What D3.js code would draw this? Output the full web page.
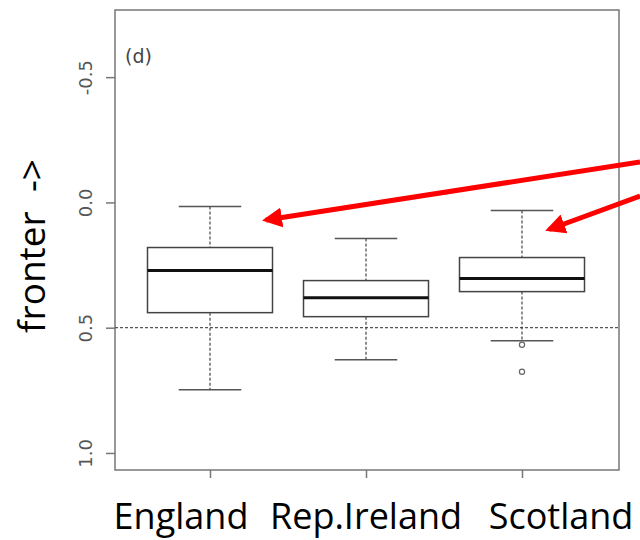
<!DOCTYPE html>
<html>
<head>
<meta charset="utf-8">
<script src="https://cdn.jsdelivr.net/npm/d3@7"></script>
<style>
  body { margin: 0; background: #fff; }
  svg { display: block; }
</style>
</head>
<body>
<svg id="chart" width="640" height="540"></svg>
<script>
// box stats (axis is reversed: small values on top)
var regions = ["England", "Rep.Ireland", "Scotland"];
var whiskerLow = [0.016, 0.144, 0.032];
var q1 = [0.18, 0.312, 0.22];
var medians = [0.272, 0.38, 0.304];
var q3 = [0.44, 0.456, 0.356];
var whiskerHigh = [0.748, 0.628, 0.552];
var outliers = [[], [], [0.568, 0.676]];
var yTicks = [-0.5, 0.0, 0.5, 1.0];
var yTickLabels = ["-0.5", "0.0", "0.5", "1.0"];
var refLine = 0.5;

var svg = d3.select("#chart");

var plotL = 115, plotR = 619, plotT = 10, plotB = 470;

var y = d3.scaleLinear()
    .domain([-0.768, 1.068])
    .range([plotT, plotB]);

var x = d3.scalePoint()
    .domain(regions)
    .range([210, 522])
    .padding(0);

var boxW = 125;

// frame
svg.append("rect")
    .attr("x", plotL)
    .attr("y", plotT)
    .attr("width", plotR - plotL)
    .attr("height", plotB - plotT)
    .attr("fill", "none")
    .attr("stroke", "#777")
    .attr("stroke-width", 1.5);

// y axis
var yAxis = d3.axisLeft(y)
    .tickValues(yTicks)
    .tickFormat(function (d, i) { return yTickLabels[i]; })
    .tickSize(9);

var yg = svg.append("g")
    .attr("transform", "translate(" + plotL + ",0)")
    .call(yAxis);
yg.select(".domain").remove();
yg.selectAll(".tick line").attr("stroke", "#777").attr("stroke-width", 1.5);
// labels in R style: turned on their side
yg.selectAll(".tick text")
    .attr("fill", "#555")
    .attr("font-family", "DejaVu Sans, sans-serif")
    .attr("font-size", "18px")
    .attr("text-anchor", "middle")
    .attr("transform", "translate(-29,0) rotate(-90)")
    .attr("x", 0)
    .attr("y", 0)
    .attr("dy", "0.35em");

// x axis (ticks only, labels are drawn larger below)
var xAxis = d3.axisBottom(x).tickSize(8).tickFormat("");
var xg = svg.append("g")
    .attr("transform", "translate(0," + plotB + ")")
    .call(xAxis);
xg.select(".domain").remove();
xg.selectAll(".tick line").attr("stroke", "#777").attr("stroke-width", 1.5);

// dotted reference line
svg.append("line")
    .attr("x1", plotL)
    .attr("x2", plotR)
    .attr("y1", y(refLine))
    .attr("y2", y(refLine))
    .attr("stroke", "#555")
    .attr("stroke-width", 1.3)
    .attr("stroke-dasharray", "3,2");

// boxes
var boxes = svg.selectAll(".box")
    .data(regions)
    .enter()
    .append("g")
    .attr("class", "box");

boxes.append("line") // upper whisker
    .attr("x1", function (d) { return x(d); })
    .attr("x2", function (d) { return x(d); })
    .attr("y1", function (d, i) { return y(whiskerLow[i]); })
    .attr("y2", function (d, i) { return y(q1[i]); })
    .attr("stroke", "#444")
    .attr("stroke-width", 1.2)
    .attr("stroke-dasharray", "3,2");

boxes.append("line") // lower whisker
    .attr("x1", function (d) { return x(d); })
    .attr("x2", function (d) { return x(d); })
    .attr("y1", function (d, i) { return y(q3[i]); })
    .attr("y2", function (d, i) { return y(whiskerHigh[i]); })
    .attr("stroke", "#444")
    .attr("stroke-width", 1.2)
    .attr("stroke-dasharray", "3,2");

boxes.append("line")
    .attr("x1", function (d) { return x(d) - boxW / 4; })
    .attr("x2", function (d) { return x(d) + boxW / 4; })
    .attr("y1", function (d, i) { return y(whiskerLow[i]); })
    .attr("y2", function (d, i) { return y(whiskerLow[i]); })
    .attr("stroke", "#555")
    .attr("stroke-width", 1.5);

boxes.append("line")
    .attr("x1", function (d) { return x(d) - boxW / 4; })
    .attr("x2", function (d) { return x(d) + boxW / 4; })
    .attr("y1", function (d, i) { return y(whiskerHigh[i]); })
    .attr("y2", function (d, i) { return y(whiskerHigh[i]); })
    .attr("stroke", "#555")
    .attr("stroke-width", 1.5);

boxes.append("rect")
    .attr("x", function (d) { return x(d) - boxW / 2; })
    .attr("y", function (d, i) { return y(q1[i]); })
    .attr("width", boxW)
    .attr("height", function (d, i) { return y(q3[i]) - y(q1[i]); })
    .attr("fill", "#fff")
    .attr("stroke", "#444")
    .attr("stroke-width", 1.5);

boxes.append("line")
    .attr("x1", function (d) { return x(d) - boxW / 2; })
    .attr("x2", function (d) { return x(d) + boxW / 2; })
    .attr("y1", function (d, i) { return y(medians[i]); })
    .attr("y2", function (d, i) { return y(medians[i]); })
    .attr("stroke", "#111")
    .attr("stroke-width", 3);

boxes.selectAll("circle")
    .data(function (d, i) { return outliers[i].map(function (v) { return { r: d, v: v }; }); })
    .enter()
    .append("circle")
    .attr("cx", function (o) { return x(o.r); })
    .attr("cy", function (o) { return y(o.v); })
    .attr("r", 2.6)
    .attr("fill", "none")
    .attr("stroke", "#666")
    .attr("stroke-width", 1.2);

// panel tag
svg.append("text")
    .attr("x", 125)
    .attr("y", 63)
    .text("(d)")
    .attr("font-family", "DejaVu Sans, sans-serif")
    .attr("font-size", "19px")
    .attr("fill", "#444");

// big slide labels
svg.append("text")
    .attr("transform", "translate(45,246) rotate(-90)")
    .attr("text-anchor", "middle")
    .attr("font-family", "Open Sans, sans-serif")
    .attr("font-size", "37px")
    .attr("fill", "#000")
    .attr("xml:space", "preserve")
    .style("white-space", "pre")
    .text("fronter  ->");

var labelX = [181, 366, 561];
svg.selectAll(".xlab")
    .data(regions)
    .enter()
    .append("text")
    .attr("class", "xlab")
    .attr("x", function (d, i) { return labelX[i]; })
    .attr("y", 529)
    .attr("text-anchor", "middle")
    .attr("font-family", "Open Sans, sans-serif")
    .attr("font-size", "36px")
    .attr("fill", "#000")
    .text(function (d) { return d; });

// red arrows (annotation)
svg.append("defs").append("marker")
    .attr("id", "head")
    .attr("viewBox", "0 0 10 10")
    .attr("refX", 8)
    .attr("refY", 5)
    .attr("markerWidth", 4)
    .attr("markerHeight", 4)
    .attr("orient", "auto")
    .append("path")
    .attr("d", "M0,0 L10,5 L0,10 Z")
    .attr("fill", "#f00");

var arrows = [
    { x1: 640, y1: 162, x2: x("England") + 56, y2: y(0.07) },
    { x1: 640, y1: 196, x2: x("Scotland") + 27, y2: y(0.108) }
];
svg.selectAll(".arrow")
    .data(arrows)
    .enter()
    .append("line")
    .attr("x1", function (d) { return d.x1; })
    .attr("y1", function (d) { return d.y1; })
    .attr("x2", function (d) { return d.x2; })
    .attr("y2", function (d) { return d.y2; })
    .attr("stroke", "#f00")
    .attr("stroke-width", 5)
    .attr("marker-end", "url(#head)");
</script>
</body>
</html>
